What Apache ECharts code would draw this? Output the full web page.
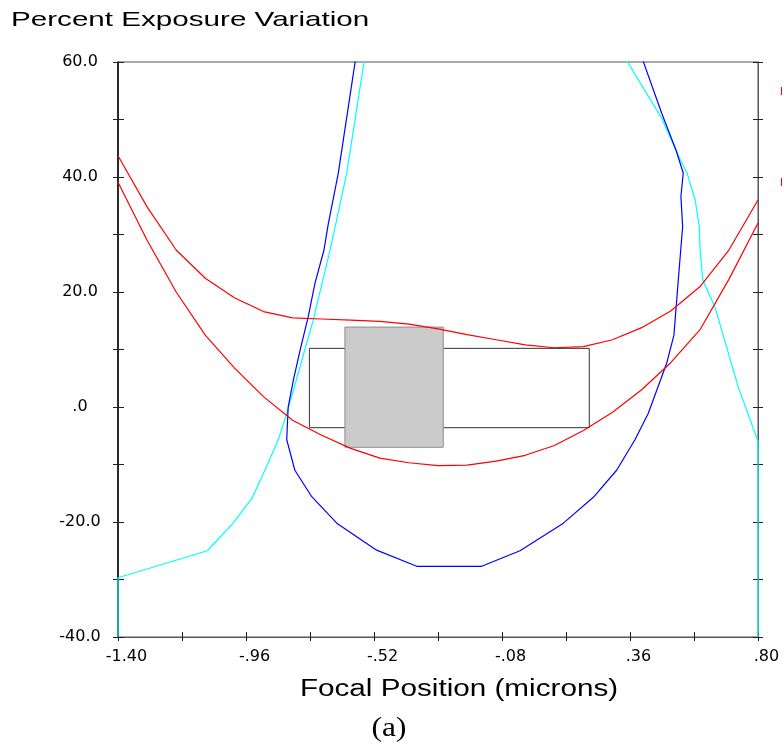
<!DOCTYPE html>
<html>
<head>
<meta charset="utf-8">
<script src="https://cdn.jsdelivr.net/npm/echarts@6/dist/echarts.min.js"></script>
<style>
html,body{margin:0;padding:0;background:#fff;}
#chart{width:784px;height:752px;}
</style>
</head>
<body>
<div id="chart"></div>
<script>
// ---- data ----
const xMin = -1.40, xMax = 0.80, xInterval = 0.22;
const yMin = -40, yMax = 60, yInterval = 10;
const xTickLabels = ['-1.40', '-.96', '-.52', '-.08', '.36', '.80'];
const yTickLabels = ['-40.0', '-20.0', '.0', '20.0', '40.0', '60.0'];

const redX = [-1.40, -1.30, -1.20, -1.10, -1.00, -0.90, -0.80, -0.70, -0.60, -0.50, -0.40, -0.30,
              -0.20, -0.10, 0.00, 0.10, 0.20, 0.30, 0.40, 0.50, 0.60, 0.70, 0.80];
const redUpper = [43.7, 34.8, 27.3, 22.4, 19.0, 16.6, 15.5, 15.3, 15.1, 14.9, 14.4, 13.6,
                  12.6, 11.7, 10.8, 10.3, 10.5, 11.7, 13.8, 16.7, 20.9, 27.3, 36.0];
const redLower = [39.1, 29.0, 20.0, 12.5, 6.8, 1.8, -2.3, -4.9, -7.2, -8.9, -9.7, -10.2,
                  -10.1, -9.4, -8.4, -6.7, -4.1, -0.9, 3.0, 7.7, 13.4, 22.2, 32.0];

const blueX = [-0.573, -0.643, -0.677, -0.692, -0.723, -0.746, -0.774, -0.797, -0.815, -0.820,
               -0.792, -0.734, -0.648, -0.511, -0.373, -0.150, -0.018, 0.131, 0.234, 0.314,
               0.377, 0.423, 0.486, 0.511, 0.526, 0.541, 0.535, 0.543, 0.518, 0.469, 0.378];
const blueY = [64, 40.6, 31.9, 27.3, 21.5, 15.7, 9.9, 4.7, 0.0, -5.7,
               -11.0, -15.6, -20.2, -24.9, -27.7, -27.7, -25.0, -20.2, -15.7, -11.0,
               -5.7, -1.1, 7.6, 12.5, 22.1, 31.4, 36.6, 40.7, 44.7, 51.1, 64];

const cyanLeftX = [-0.542, -0.614, -0.671, -0.729, -0.774, -0.820, -0.849, -0.895, -0.940, -1.004, -1.093, -1.40, -1.40];
const cyanLeftY = [64, 40.6, 27.3, 15.1, 7.0, -1.1, -5.7, -11.0, -15.9, -20.2, -25.0, -29.7, -40];
const cyanRightX = [0.304, 0.469, 0.530, 0.557, 0.584, 0.598, 0.601, 0.610, 0.652, 0.732, 0.80, 0.80];
const cyanRightY = [64, 50.2, 43.3, 40.6, 36.0, 31.4, 27.3, 22.1, 17.4, 3.5, -6.0, -40];

const outlineBox = [-0.742, -3.6, 0.220, 10.2];   // x1, y1, x2, y2
const grayBox = [-0.620, -7.0, -0.282, 13.9];     // x1, y1, x2, y2

// ---- helpers ----
const zip = (xs, ys) => xs.map((x, i) => [x, ys[i]]);
function xFmt(v) {
  const k = Math.round((v - xMin) / xInterval);
  return k % 2 === 0 ? (xTickLabels[k / 2] || '') : '';
}
function yFmt(v) {
  const k = Math.round((v - yMin) / yInterval);
  return k % 2 === 0 ? (yTickLabels[k / 2] || '') : '';
}
function rectItem(fill, stroke) {
  return function (params, api) {
    const p1 = api.coord([api.value(0), api.value(3)]);
    const p2 = api.coord([api.value(2), api.value(1)]);
    return {
      type: 'rect',
      shape: { x: p1[0], y: p1[1], width: p2[0] - p1[0], height: p2[1] - p1[1] },
      style: { fill: fill, stroke: stroke, lineWidth: 1 }
    };
  };
}
const baseX = { type: 'value', min: xMin, max: xMax, interval: xInterval, splitLine: { show: false } };
const baseY = { type: 'value', min: yMin, max: yMax, interval: yInterval, splitLine: { show: false } };
const labelFont = { fontFamily: 'DejaVu Sans', fontSize: 16, color: '#000' };

const chart = echarts.init(document.getElementById('chart'), null, { renderer: 'canvas' });
const lineCommon = { type: 'line', showSymbol: false, symbol: 'none', clip: true, z: 5, animation: false, silent: true };

chart.setOption({
  animation: false,
  backgroundColor: '#fff',
  grid: { left: 118, top: 62, right: 26, bottom: 115, show: true, borderColor: '#555', borderWidth: 1, backgroundColor: 'transparent' },
  xAxis: [
    Object.assign({}, baseX, {
      position: 'bottom',
      axisLine: { show: true, onZero: false, lineStyle: { color: '#555', width: 1 } },
      axisTick: { show: true, inside: false, length: 4, lineStyle: { color: '#222' } },
      axisLabel: Object.assign({ show: true, margin: 12, formatter: xFmt, padding: [0, 0, 0, 17] }, labelFont)
    }),
    Object.assign({}, baseX, {
      position: 'bottom',
      axisLine: { show: false, onZero: false },
      axisTick: { show: true, inside: true, length: 5, lineStyle: { color: '#222' } },
      axisLabel: { show: false }
    })
  ],
  yAxis: [
    Object.assign({}, baseY, {
      position: 'left',
      axisLine: { show: true, onZero: false, lineStyle: { color: '#000', width: 1.5 } },
      axisTick: { show: true, inside: false, length: 5, lineStyle: { color: '#222' } },
      axisLabel: Object.assign({ show: true, margin: 38, align: 'center', formatter: yFmt }, labelFont)
    }),
    Object.assign({}, baseY, {
      position: 'left',
      axisLine: { show: false, onZero: false },
      axisTick: { show: true, inside: true, length: 6, lineStyle: { color: '#222' } },
      axisLabel: { show: false }
    }),
    Object.assign({}, baseY, {
      position: 'right',
      axisLine: { show: true, onZero: false, lineStyle: { color: '#555', width: 1 } },
      axisTick: { show: true, inside: false, length: 5, lineStyle: { color: '#222' } },
      axisLabel: { show: false }
    }),
    Object.assign({}, baseY, {
      position: 'right',
      axisLine: { show: false, onZero: false },
      axisTick: { show: true, inside: true, length: 5, lineStyle: { color: '#222' } },
      axisLabel: { show: false }
    })
  ],
  series: [
    {
      type: 'custom', z: 2, silent: true, animation: false,
      renderItem: rectItem('rgba(0,0,0,0)', '#333'),
      encode: { x: [0, 2], y: [1, 3] },
      data: [outlineBox]
    },
    {
      type: 'custom', z: 3, silent: true, animation: false,
      renderItem: rectItem('#cbcbcb', '#8c8c8c'),
      encode: { x: [0, 2], y: [1, 3] },
      data: [grayBox]
    },
    Object.assign({}, lineCommon, { data: zip(cyanLeftX, cyanLeftY), lineStyle: { color: '#00ffff', width: 1.2 } }),
    Object.assign({}, lineCommon, { data: zip(cyanRightX, cyanRightY), lineStyle: { color: '#00ffff', width: 1.2 } }),
    Object.assign({}, lineCommon, { data: zip(blueX, blueY), lineStyle: { color: '#0000ff', width: 1.2 } }),
    Object.assign({}, lineCommon, { data: zip(redX, redUpper), lineStyle: { color: '#ff0000', width: 1.2 } }),
    Object.assign({}, lineCommon, { data: zip(redX, redLower), lineStyle: { color: '#ff0000', width: 1.2 } })
  ],
  graphic: [
    {
      type: 'text', x: 11, y: 20.5, scaleX: 1.41, silent: true,
      style: { text: 'Percent Exposure Variation', x: 0, y: 0, fontFamily: 'Liberation Sans', fontSize: 21,
               fill: '#000', textAlign: 'left', textVerticalAlign: 'middle' }
    },
    {
      type: 'text', x: 459, y: 690, scaleX: 1.29, silent: true,
      style: { text: 'Focal Position (microns)', x: 0, y: 0, fontFamily: 'Liberation Sans', fontSize: 23,
               fill: '#000', textAlign: 'center', textVerticalAlign: 'middle' }
    },
    {
      type: 'text', x: 389, y: 729, scaleX: 1.12, silent: true,
      style: { text: '(a)', x: 0, y: 0, fontFamily: 'Liberation Serif', fontSize: 28,
               fill: '#000', textAlign: 'center', textVerticalAlign: 'middle' }
    },
    { type: 'line', silent: true, shape: { x1: 781.5, y1: 87, x2: 781.5, y2: 95 }, style: { stroke: '#ff0000', lineWidth: 1 } },
    { type: 'line', silent: true, shape: { x1: 781.5, y1: 178, x2: 781.5, y2: 186 }, style: { stroke: '#ff0000', lineWidth: 1 } }
  ]
});
</script>
</body>
</html>
